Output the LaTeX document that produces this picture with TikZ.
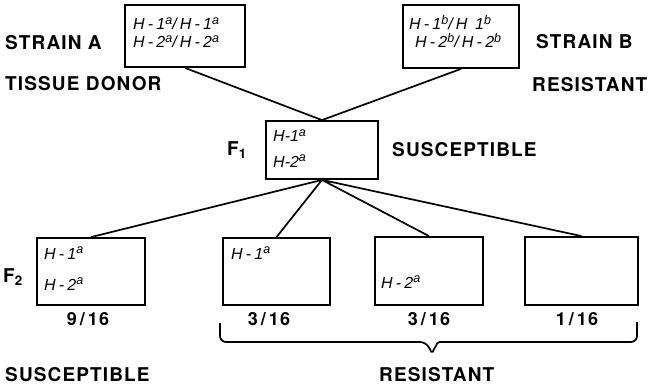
\documentclass[tikz,border=0pt]{standalone}
\usepackage{fontspec}
\setmainfont{TeX Gyre Heros}
\newfontfamily\capsfont[LetterSpace=6]{TeX Gyre Heros}
\newfontfamily\genofont[LetterSpace=20]{Liberation Sans}
\newfontfamily\genotight{Liberation Sans}
\newcommand{\ua}{\raisebox{.6ex}{\fontsize{12.5}{12}\selectfont a}}
\newcommand{\ub}{\raisebox{.6ex}{\fontsize{12.5}{12}\selectfont b}}
\newcommand{\ov}{\hspace{3pt}/\hspace{3pt}}

\tikzset{
  box/.style={draw, line width=1.8pt, inner sep=0pt},
  wire/.style={line width=1.7pt},
  caps/.style={font=\capsfont\bfseries\fontsize{19}{22}\selectfont, inner sep=0pt, anchor=base west},
  frac/.style={font=\capsfont\bfseries\fontsize{18}{22}\selectfont, inner sep=0pt, anchor=base},
  geno/.style={font=\genofont\itshape\fontsize{16}{18}\selectfont, inner sep=0pt, anchor=base west},
  genot/.style={font=\genotight\itshape\fontsize{16}{18}\selectfont, inner sep=0pt, anchor=base west},
}

\begin{document}
\begin{tikzpicture}[x=1pt, y=-1pt]
    \useasboundingbox (0,0) rectangle (650,385);

    % parent strains
    \node[box, minimum width=120pt, minimum height=62pt] (sa) at (185,36) {};
    \node[box, minimum width=116pt, minimum height=63pt] (sb) at (461,36.5) {};
    \node[geno] (sa1) at (133,30) {H-1\ua/H-1\ua};
    \node[geno] (sa2) at (133,48) {H-2\ua/H-2\ua};
    \node[geno] (sb1) at (409,30) {H-1\ub/H 1\ub};
    \node[geno] (sb2) at (415,48) {H-2\ub/H-2\ub};
    \node[caps] (stra) at (5,50) {STRAIN A};
    \node[caps] (donor) at (5,91) {TISSUE DONOR};
    \node[caps] (strb) at (536,49) {STRAIN B};
    \node[caps] (resb) at (532,92) {RESISTANT};

    % F1 hybrid
    \node[box, minimum width=112pt, minimum height=58pt] (f1) at (322,150) {};
    \node[genot] (f1a) at (273,142) {H-1\ua};
    \node[genot] (f1b) at (273,167) {H-2\ua};
    \node[caps] (f1l) at (227,155) {F\textsubscript{1}};
    \node[caps] (f1s) at (392,156) {SUSCEPTIBLE};

    % F2 classes
    \node[box, minimum width=108pt, minimum height=67pt] (g1) at (91,271.5) {};
    \node[box, minimum width=107pt, minimum height=67pt] (g2) at (276.5,271.5) {};
    \node[box, minimum width=108pt, minimum height=68pt] (g3) at (429,271) {};
    \node[box, minimum width=113pt, minimum height=68pt] (g4) at (581.5,271) {};
    \node[geno] (g1a) at (44,259) {H-1\ua};
    \node[geno] (g1b) at (44,290) {H-2\ua};
    \node[geno] (g2a) at (231,259) {H-1\ua};
    \node[geno] (g3b) at (381,288) {H-2\ua};
    \node[caps] (f2l) at (3,282) {F\textsubscript{2}};

    \node[frac] (r1) at (88,325) {9\ov16};
    \node[frac] (r2) at (269,325) {3\ov16};
    \node[frac] (r3) at (429,325) {3\ov16};
    \node[frac] (r4) at (577,325) {1\ov16};

    \node[caps] (sus) at (5,381) {SUSCEPTIBLE};
    \node[caps] (res) at (379,381) {RESISTANT};

    \draw[wire] (sa.south) -- (f1.north)
        (sb.south) -- (f1.north);
    \draw[wire] (f1.south) -- (g1.north)
        (f1.south) -- (g2.north)
        (f1.south) -- (g3.north)
        (f1.south) -- (g4.north);

    % brace under the resistant classes
    \draw[wire, rounded corners=6pt] (220,323) -- (220,342) -- (426,342)
        [rounded corners=1.5pt] -- (432,353) -- (438,342)
        [rounded corners=6pt] -- (637,342) -- (637,322);
\end{tikzpicture}
\end{document}
